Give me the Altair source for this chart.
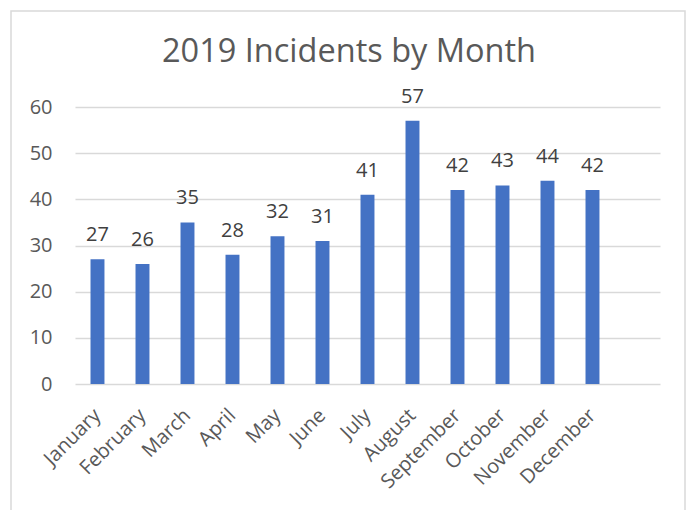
import altair as alt
import pandas as pd

months = ["January", "February", "March", "April", "May", "June", "July",
          "August", "September", "October", "November", "December"]
incidents = [27, 26, 35, 28, 32, 31, 41, 57, 42, 43, 44, 42]
y_ticks = [0, 10, 20, 30, 40, 50, 60]
title_text = "2019 Incidents by Month"

df = pd.DataFrame({"Month": months, "Incidents": incidents})

FONT = "Open Sans"
W, H = 585, 277

x_enc = alt.X("Month:N", sort=months,
              scale=alt.Scale(paddingInner=0.69, paddingOuter=0.845, align=0.204),
              axis=alt.Axis(title=None, labelAngle=-45, labelAlign="right",
                            labelBaseline="middle", labelFontSize=20, labelFont=FONT,
                            labelColor="#595959", labelPadding=28, ticks=False,
                            domain=False, grid=False, labelOverlap=False))
y_enc = alt.Y("Incidents:Q", scale=alt.Scale(domain=[0, 60], nice=False),
              axis=alt.Axis(title=None, values=y_ticks, labelFontSize=20,
                            labelFont=FONT, labelColor="#595959", ticks=False,
                            tickSize=0, domain=False, grid=True,
                            gridColor="#d9d9d9", gridWidth=1.3, labelPadding=23))

bars = alt.Chart(df).mark_bar(color="#4472C4").encode(x=x_enc, y=y_enc)
labels = alt.Chart(df).mark_text(font=FONT, fontSize=20, color="#404040",
                                 baseline="alphabetic", dy=-18).encode(
    x=alt.X("Month:N", sort=months), y="Incidents:Q", text="Incidents:Q")

frame = alt.Chart(pd.DataFrame({"f": [0]})).mark_rect(
    fill=None, stroke="#d9d9d9", strokeWidth=1.5).encode(
    x=alt.value(-64), x2=alt.value(610), y=alt.value(-96), y2=alt.value(440))

title = alt.Chart(pd.DataFrame({"t": [title_text]})).mark_text(
    font=FONT, fontSize=32.5, color="#595959", align="center",
    baseline="alphabetic").encode(
    x=alt.value(274), y=alt.value(-45), text="t:N")

chart = alt.layer(frame, bars, labels, title).properties(
    width=W, height=H,
    autosize=alt.AutoSizeParams(type="none"),
    padding={"left": 67, "top": 99, "right": 26, "bottom": 126},
).configure(background="white").configure_view(strokeWidth=0)

chart.save("out.html", embed_options={"renderer": "svg", "actions": False})
